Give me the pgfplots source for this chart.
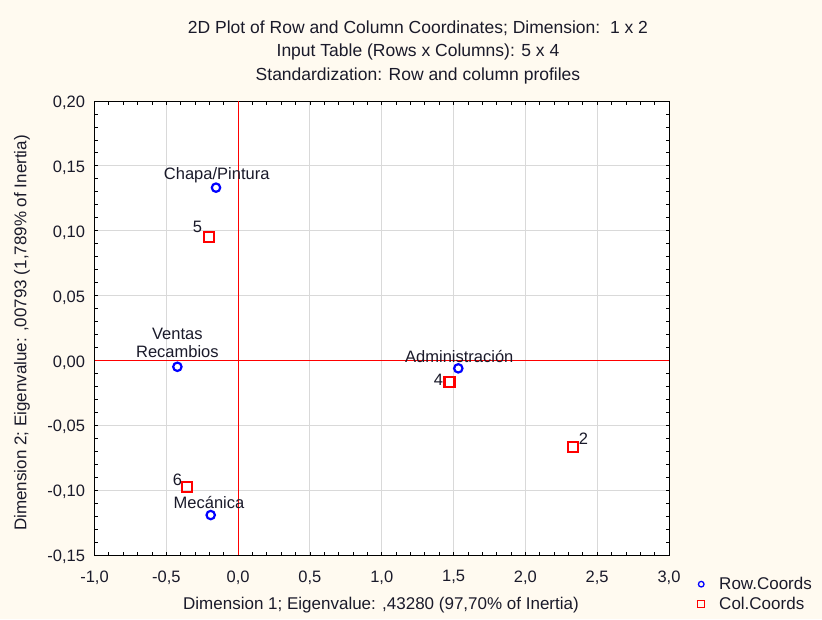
\documentclass[border=0pt]{standalone}
\usepackage{pgfplots}
\pgfplotsset{compat=1.18}
\usepackage{fontspec}
\setmainfont{Liberation Sans}
\definecolor{bgc}{HTML}{FFFAF0}
\definecolor{gridc}{HTML}{D9D9D9}
\definecolor{tc}{HTML}{1A1A2A}
\begin{document}
\begin{tikzpicture}[x=1pt,y=1pt]
\fill[bgc] (0,0) rectangle (822,619);
\begin{scope}[every node/.style={font=\fontsize{17.5}{20}\selectfont, text=tc}]
\node at (418,591) {2D Plot of Row and Column Coordinates; Dimension:\ \ 1 x 2};
\node at (418,567) {Input Table (Rows x Columns): 5 x 4};
\node at (418,543) {Standardization: Row and column profiles};
\end{scope}
\begin{scope}[every node/.style={font=\fontsize{17}{20}\selectfont, text=tc}]
\node[rotate=90] at (22,286) {Dimension 2; Eigenvalue: ,00793 (1,789\% of Inertia)};
\node at (381,14) {Dimension 1; Eigenvalue: ,43280 (97,70\% of Inertia)};
\end{scope}
\begin{axis}[at={(94.5pt,64pt)}, anchor=south west, scale only axis,
  width=574.5pt, height=454pt,
  xmin=-1, xmax=3, ymin=-0.15, ymax=0.2,
  xtick={-1,-0.5,0,0.5,1,1.5,2,2.5,3},
  ytick={-0.15,-0.1,-0.05,0,0.05,0.1,0.15,0.2},
  minor x tick num=4, minor y tick num=4,
  scaled x ticks=false, scaled y ticks=false,
  grid=major, major grid style={gridc, line width=0.9pt},
  tick align=inside, major tick length=3.5pt, minor tick length=3.5pt,
  tick style={black, line width=0.8pt},
  axis background/.style={fill=white},
  axis line style={black, line width=0.9pt},
  /pgf/number format/assume math mode=true,
  xticklabel style={/pgf/number format/.cd, fixed, fixed zerofill, precision=1, use comma, /tikz/.cd, yshift=-12pt},
  yticklabel style={/pgf/number format/.cd, fixed, fixed zerofill, precision=2, use comma, /tikz/.cd, xshift=-6pt, yshift=-2pt},
  ticklabel style={font=\fontsize{16.5}{19}\selectfont, text=tc},
  clip=false,
  legend style={at={(1.0366,-0.042)}, anchor=north west, draw=none, fill=none,
    font=\fontsize{17}{19}\selectfont, text=tc, row sep=2pt, inner sep=1pt},
  legend cell align=left,
]
\addplot[only marks, mark=o, mark size=4.2pt, blue, line width=2.2pt,
  legend image code/.code={\path[draw=none] (0,0) -- (26pt,0); \draw[blue, line width=1.3pt] (10pt,0) circle (2.8pt);}]
  coordinates {(-0.154,0.1332) (-0.423,-0.0049) (-0.191,-0.1192) (1.533,-0.0061)};
\addlegendentry{Row.Coords}
\addplot[only marks, mark=square, mark size=5pt, red, line width=2.2pt,
  legend image code/.code={\path[draw=none] (0,0) -- (26pt,0); \draw[red, line width=1.3pt] (10pt-3.5pt,-3.5pt) rectangle (10pt+3.5pt,3.5pt);}]
  coordinates {(-0.205,0.0954) (-0.358,-0.0974) (1.471,-0.0169) (2.334,-0.0665)};
\addlegendentry{Col.Coords}
\draw[red, line width=1.1pt] (axis cs:0,-0.15) -- (axis cs:0,0.2);
\draw[red, line width=1.1pt] (axis cs:-1,0) -- (axis cs:3,0);
\begin{scope}[every node/.style={font=\fontsize{16.5}{19}\selectfont, text=tc}]
\node at (axis cs:-0.149,0.1429) {Chapa/Pintura};
\node at (axis cs:-0.283,0.1026) {5};
\node[align=center] at (axis cs:-0.423,0.0132) {Ventas\\[-1pt]Recambios};
\node at (axis cs:-0.423,-0.0917) {6};
\node at (axis cs:-0.203,-0.1097) {Mecánica};
\node at (axis cs:1.540,0.0034) {Administración};
\node at (axis cs:1.394,-0.0146) {4};
\node at (axis cs:2.404,-0.0601) {2};
\end{scope}
\end{axis}
\end{tikzpicture}
\end{document}
